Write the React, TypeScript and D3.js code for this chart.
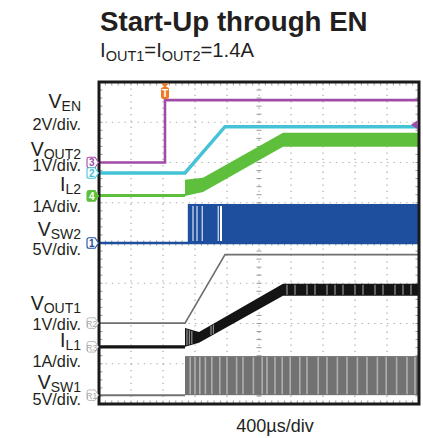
import React from "react";
import * as d3 from "d3";

// ---- data (time in µs from left edge of screen) ----
const titleText = "Start-Up through EN";
const timebaseLabel = "400µs/div";

// channel settings: units per division and ground offset (divisions from centre)
const chanNames = ["VEN", "VOUT2", "IL2", "VSW2", "VOUT1", "IL1", "VSW1"];
const chanScale = [2, 1, 1, 5, 1, 1, 5];
const chanOffset = [2.0, 1.74, 1.17, 0.0, -1.99, -2.58, -3.78];

const venT = [0, 825, 825, 4000];
const venV = [0, 0, 3.1, 3.1];

const vout2T = [0, 1075, 1575, 4000];
const vout2V = [0, 0, 1.15, 1.15];

const il2T = [0, 1075, 1075, 1300, 2300, 4000];
const il2Hi = [0.05, 0.05, 0.4, 0.45, 1.57, 1.57];
const il2Lo = [-0.03, -0.03, 0.0, 0.1, 1.22, 1.22];

const vsw2Start = 1110;
const vsw2High = 4.85;
const vsw2Gaps = [1175, 1225, 1290, 1490, 1525];

const vout1T = [0, 1075, 1575, 4000];
const vout1V = [0, 0, 1.7, 1.7];

const il1T = [0, 1075, 1075, 1250, 2300, 4000];
const il1Hi = [0.04, 0.04, 0.47, 0.37, 1.57, 1.57];
const il1Lo = [-0.04, -0.04, 0.0, 0.1, 1.27, 1.27];
const il1Stripes = [1100, 1130, 1160, 1400, 1430, 2350, 2450, 2600, 2700, 2850, 2950, 3050, 3200, 3300, 3450, 3550, 3700, 3800, 3900];

const vsw1Start = 1075;
const vsw1High = 4.85;
const vsw1Stripes = [1140, 1200, 1260, 1330, 1410, 1510, 1600, 1720, 1800, 1930, 2040, 2100, 2200, 2290, 2390, 2510, 2600, 2740, 2850, 2980, 3100, 3230, 3350, 3480, 3590, 3720, 3850, 3950];

const triggerTime = 825;
const triggerLevel = 1.88; // on the EN channel

// left-hand labels
const labelSym = ["V", "V", "I", "V", "V", "I", "V"];
const labelSub = ["EN", "OUT2", "L2", "SW2", "OUT1", "L1", "SW1"];
const labelDiv = ["2V/div.", "1V/div.", "1A/div.", "5V/div.", "1V/div.", "1A/div.", "5V/div."];

// ---- layout ----
const W = 423, H = 438;
const L = 99, R = 419, T = 82, B = 404;
const FONT = "'Liberation Sans', Arial, sans-serif";
const INK = "#231f20";
const symBase = [108, 156, 191, 236, 310, 347, 389];
const divBase = [130, 171, 212, 255, 330, 367, 405];

const C = {
  ven: "#a14aa7",
  vout2: "#45c3d6",
  il2: "#5dbf3b",
  vsw2: "#1e4f9f",
  vout1: "#6f6f6f",
  il1: "#141414",
  vsw1: "#727272",
  trig: "#f07a22",
};

const x = d3.scaleLinear().domain([0, 4000]).range([L, R]);
const yDiv = d3.scaleLinear().domain([-4, 4]).range([B, T]);
const yCh = (ci: number) => (v: number) => yDiv(chanOffset[ci] + v / chanScale[ci]);

function linePath(ci: number, ts: number[], vs: number[]) {
  const y = yCh(ci);
  return d3.line<number>().x((_, i) => x(ts[i])).y((d) => y(d))(vs) || "";
}
function bandPath(ci: number, ts: number[], lo: number[], hi: number[]) {
  const y = yCh(ci);
  return (
    d3
      .area<number>()
      .x((_, i) => x(ts[i]))
      .y0((_, i) => y(lo[i]))
      .y1((d) => y(d))(hi) || ""
  );
}

function Grid() {
  const els: React.ReactNode[] = [];
  const xs = d3.range(1, 10).map((i) => L + (i * (R - L)) / 10);
  const ys = d3.range(1, 8).map((j) => T + (j * (B - T)) / 8);
  xs.forEach((gx, i) =>
    els.push(
      <line key={"gx" + i} x1={gx} x2={gx} y1={T} y2={B} stroke="#a9a9a9" strokeWidth={1.2} strokeDasharray="1.3 5.1" />
    )
  );
  ys.forEach((gy, j) =>
    els.push(
      <line key={"gy" + j} x1={L} x2={R} y1={gy} y2={gy} stroke="#a9a9a9" strokeWidth={1.2} strokeDasharray="1.3 5.1" />
    )
  );
  const cx = (L + R) / 2, cy = (T + B) / 2;
  const stepX = (R - L) / 50, stepY = (B - T) / 40;
  d3.range(1, 50).forEach((k) => {
    const tx = L + k * stepX;
    els.push(<line key={"ct" + k} x1={tx} x2={tx} y1={cy - 2.5} y2={cy + 2.5} stroke="#9a9a9a" strokeWidth={1} />);
    els.push(<line key={"tt" + k} x1={tx} x2={tx} y1={T} y2={T + 3.5} stroke="#9a9a9a" strokeWidth={1} />);
    els.push(<line key={"bt" + k} x1={tx} x2={tx} y1={B - 3.5} y2={B} stroke="#9a9a9a" strokeWidth={1} />);
  });
  d3.range(1, 40).forEach((k) => {
    const ty = T + k * stepY;
    els.push(<line key={"cv" + k} x1={cx - 2.5} x2={cx + 2.5} y1={ty} y2={ty} stroke="#9a9a9a" strokeWidth={1} />);
    els.push(<line key={"lt" + k} x1={L} x2={L + 3.5} y1={ty} y2={ty} stroke="#9a9a9a" strokeWidth={1} />);
    els.push(<line key={"rt" + k} x1={R - 3.5} x2={R} y1={ty} y2={ty} stroke="#9a9a9a" strokeWidth={1} />);
  });
  return <g>{els}</g>;
}

function Tab({ y, label, color, filled, ghost }: { y: number; label: string; color: string; filled?: boolean; ghost?: boolean }) {
  const h = 10.5;
  const p = `M89,${y - h / 2} L95,${y - h / 2} L98.5,${y} L95,${y + h / 2} L89,${y + h / 2} Q87,${y + h / 2} 87,${y + h / 2 - 2} L87,${y - h / 2 + 2} Q87,${y - h / 2} 89,${y - h / 2} Z`;
  return (
    <g>
      <path d={p} fill={filled ? color : "#fff"} stroke={color} strokeWidth={ghost ? 0.8 : 1.1} />
      <text x={91.8} y={y + 3.7} fontSize={ghost ? 8.5 : 10} fontFamily={FONT} fill={filled ? "#fff" : color} textAnchor="middle" fontWeight={ghost ? "normal" : "bold"}>
        {label}
      </text>
    </g>
  );
}

export default function App() {
  const y0 = yCh(0), y1 = yCh(1), y2 = yCh(2), y3 = yCh(3), y4 = yCh(4), y5 = yCh(5), y6 = yCh(6);
  const tx = x(triggerTime);
  const ty = y0(triggerLevel);
  return (
    <div style={{ position: "absolute", left: 0, top: 0 }}>
      <svg width={W} height={H} viewBox={`0 0 ${W} ${H}`} style={{ display: "block", background: "#fff" }}>
        {/* title */}
        <text x={100} y={31} fontFamily={FONT} fontWeight="bold" fontSize={27.7} fill={INK}>
          {titleText}
        </text>
        <text x={100} y={57} fontFamily={FONT} fontSize={20.3} fill={INK}>
          <tspan>I</tspan>
          <tspan fontSize={14.5} dy={4}>OUT1</tspan>
          <tspan dy={-4}>=I</tspan>
          <tspan fontSize={14.5} dy={4}>OUT2</tspan>
          <tspan dy={-4}>=1.4A</tspan>
        </text>

        {/* channel labels */}
        {labelSym.map((s, i) => (
          <g key={"lab" + i} fontFamily={FONT} fill={INK}>
            <text x={81} y={symBase[i]} textAnchor="end">
              <tspan fontSize={19.5}>{s}</tspan>
              <tspan fontSize={14} dy={3}>{labelSub[i]}</tspan>
            </text>
            <text x={81} y={divBase[i]} textAnchor="end" fontSize={16.3}>
              {labelDiv[i]}
            </text>
          </g>
        ))}

        <text x={275} y={432} fontFamily={FONT} fontSize={18} fill={INK} textAnchor="middle">
          {timebaseLabel}
        </text>

        {/* screen */}
        <rect x={L} y={T} width={R - L} height={B - T} fill="#fff" />
        <Grid />

        {/* VSW1 switching band */}
        <rect x={x(vsw1Start)} y={y6(vsw1High)} width={x(4000) - x(vsw1Start)} height={y6(0) - y6(vsw1High)} fill={C.vsw1} />
        {vsw1Stripes.map((t, i) => (
          <line key={"s1" + i} x1={x(t)} x2={x(t)} y1={y6(vsw1High) + 1} y2={y6(0) - 1} stroke="#afafaf" strokeWidth={1.6} />
        ))}
        <path d={linePath(6, [0, vsw1Start], [0, 0])} stroke={C.vsw1} strokeWidth={2} fill="none" />

        {/* IL1 */}
        <path d={bandPath(5, il1T, il1Lo, il1Hi)} fill={C.il1} />
        {il1Stripes.map((t, i) => {
          const idx = d3.bisectLeft(il1T, t);
          const j = Math.max(1, Math.min(idx, il1T.length - 1));
          const f = (t - il1T[j - 1]) / (il1T[j] - il1T[j - 1] || 1);
          const hi = il1Hi[j - 1] + f * (il1Hi[j] - il1Hi[j - 1]);
          const lo = il1Lo[j - 1] + f * (il1Lo[j] - il1Lo[j - 1]);
          return <line key={"s5" + i} x1={x(t)} x2={x(t)} y1={y5(hi) + 1} y2={y5(lo) - 1} stroke="#8a8a8a" strokeWidth={1.3} />;
        })}

        {/* VOUT1 */}
        <path d={linePath(4, vout1T, vout1V)} stroke={C.vout1} strokeWidth={1.6} fill="none" />

        {/* VSW2 switching band */}
        <rect x={x(vsw2Start)} y={y3(vsw2High)} width={x(4000) - x(vsw2Start)} height={y3(0) - y3(vsw2High)} fill={C.vsw2} />
        {vsw2Gaps.map((t, i) => (
          <line key={"g2" + i} x1={x(t)} x2={x(t)} y1={y3(vsw2High) + 2} y2={y3(0) - 2} stroke="#fff" strokeWidth={i === 4 ? 2 : 1} />
        ))}
        <path d={linePath(3, [0, 4000], [0, 0])} stroke={C.vsw2} strokeWidth={2.6} fill="none" />

        {/* IL2 */}
        <path d={bandPath(2, il2T, il2Lo, il2Hi)} fill={C.il2} />

        {/* VOUT2 */}
        <path d={linePath(1, vout2T, vout2V)} stroke={C.vout2} strokeWidth={3.4} fill="none" />

        {/* VEN */}
        <path d={linePath(0, venT, venV)} stroke={C.ven} strokeWidth={2.6} fill="none" />

        {/* frame */}
        <rect x={L} y={T} width={R - L} height={B - T} fill="none" stroke="#1a1a1a" strokeWidth={3} />

        {/* trigger position marker */}
        <path d={`M${tx - 3.5},${T + 1.5} L${tx + 3.5},${T + 1.5} L${tx},${T + 6} Z`} fill={C.trig} />
        <rect x={tx - 4} y={T + 5} width={8} height={12} rx={2.5} fill={C.trig} />
        <text x={tx} y={T + 14.5} fontSize={10} fontFamily={FONT} fill="#fff" textAnchor="middle" fontWeight="bold">
          T
        </text>
        {/* trigger level marker */}
        <path d={`M${R - 8},${ty} L${R - 1.5},${ty - 4.5} L${R - 1.5},${ty + 4.5} Z`} fill={C.ven} />

        {/* ground tabs */}
        <Tab y={y0(0)} label="3" color={C.ven} />
        <Tab y={y1(0)} label="2" color={C.vout2} />
        <Tab y={y2(0)} label="4" color={C.il2} filled />
        <Tab y={y3(0)} label="1" color={C.vsw2} />
        <Tab y={y4(0)} label="R2" color="#a8a8a8" ghost />
        <Tab y={y5(0)} label="R3" color="#a8a8a8" ghost />
        <Tab y={y6(0)} label="R1" color="#a8a8a8" ghost />
      </svg>
    </div>
  );
}
